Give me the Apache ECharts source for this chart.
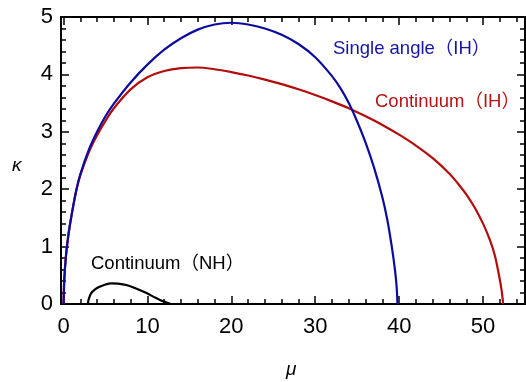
<!DOCTYPE html>
<html>
<head>
<meta charset="utf-8">
<script src="https://cdn.jsdelivr.net/npm/echarts@6/dist/echarts.min.js"></script>
<style>html,body{margin:0;padding:0;background:#fff}#c{width:526px;height:382px}</style>
</head>
<body>
<div id="c"></div>
<script>
// ---- data ----
const singleAngleIH_x = [0, 0.1, 0.3, 0.6, 1, 1.5, 2, 3, 4, 5, 6, 8, 10, 12, 14, 16, 18, 20, 22, 24, 26, 28, 30, 32, 33, 34, 35, 36, 37, 38, 38.6, 39.1, 39.5, 39.7, 39.8];
const singleAngleIH_y = [0, 0.45, 0.85, 1.22, 1.58, 1.97, 2.26, 2.68, 3.0, 3.27, 3.49, 3.86, 4.17, 4.43, 4.63, 4.78, 4.87, 4.9, 4.87, 4.8, 4.69, 4.53, 4.3, 3.97, 3.76, 3.5, 3.18, 2.81, 2.38, 1.86, 1.46, 1.02, 0.6, 0.3, 0];

const continuumIH_x = [0, 0.1, 0.3, 0.6, 1, 1.5, 2, 3, 4, 5, 6, 8, 10, 12, 14, 16, 18, 20, 22, 24, 26, 28, 30, 32, 34, 36, 38, 40, 42, 44, 46, 47, 48, 49, 50, 50.8, 51.4, 51.9, 52.2, 52.4];
const continuumIH_y = [0, 0.45, 0.85, 1.22, 1.58, 1.96, 2.24, 2.64, 2.94, 3.19, 3.41, 3.74, 3.95, 4.06, 4.11, 4.12, 4.09, 4.04, 3.98, 3.91, 3.83, 3.74, 3.64, 3.53, 3.41, 3.27, 3.12, 2.95, 2.76, 2.54, 2.27, 2.1, 1.91, 1.68, 1.4, 1.12, 0.85, 0.5, 0.25, 0];

const continuumNH_x = [2.9, 3.0, 3.3, 3.8, 4.3, 5, 5.7, 6.5, 7.5, 8.5, 9.9, 10.8, 11.5, 12.2, 12.8];
const continuumNH_y = [0, 0.08, 0.19, 0.26, 0.30, 0.34, 0.36, 0.355, 0.33, 0.28, 0.19, 0.12, 0.07, 0.03, 0];

const xMajorTicks = [0, 10, 20, 30, 40, 50];
const xMinorTicks = [2, 4, 6, 8, 12, 14, 16, 18, 22, 24, 26, 28, 32, 34, 36, 38, 42, 44, 46, 48, 52, 54];
const yMajorTicks = [0, 1, 2, 3, 4, 5];
const yMinorTicks = [0.2, 0.4, 0.6, 0.8, 1.2, 1.4, 1.6, 1.8, 2.2, 2.4, 2.6, 2.8, 3.2, 3.4, 3.6, 3.8, 4.2, 4.4, 4.6, 4.8];

const labelSingleIH = 'Single angle（IH）';
const labelContIH = 'Continuum（IH）';
const labelContNH = 'Continuum（NH）';
const xName = 'μ';
const yName = 'κ';

// ---- chart ----
const zip = (xs, ys) => xs.map((x, i) => [x, ys[i]]);
const FONT = '"Liberation Sans", Arial, "Noto Sans CJK SC", sans-serif';
const XMIN = -0.3, XMAX = 55, YMIN = 0, YMAX = 5;
const gridRect = {left: 61, right: 1, top: 17, bottom: 78};

function xAx(gridIndex, position, ticks, len, showLine, showLabel) {
  return {
    type: 'value', gridIndex, position, min: XMIN, max: XMAX,
    axisLine: {show: showLine, onZero: false, lineStyle: {color: '#000', width: 2}},
    axisTick: {show: true, inside: true, length: len, customValues: ticks, lineStyle: {color: '#000', width: 1.5}},
    axisLabel: {show: showLabel, customValues: ticks, fontSize: 22, margin: 12, color: '#000', fontFamily: FONT},
    splitLine: {show: false}, minorTick: {show: false}
  };
}
function yAx(gridIndex, position, ticks, len, showLine, showLabel) {
  return {
    type: 'value', gridIndex, position, min: YMIN, max: YMAX,
    axisLine: {show: showLine, onZero: false, lineStyle: {color: '#000', width: 2}},
    axisTick: {show: true, inside: true, length: len, customValues: ticks, lineStyle: {color: '#000', width: 1.5}},
    axisLabel: {show: showLabel, customValues: ticks, fontSize: 22, margin: 8, color: '#000', fontFamily: FONT},
    splitLine: {show: false}, minorTick: {show: false}
  };
}

const chart = echarts.init(document.getElementById('c'), null, {renderer: 'canvas'});
chart.setOption({
  animation: false,
  backgroundColor: '#fff',
  grid: [Object.assign({}, gridRect), Object.assign({}, gridRect)],
  xAxis: [
    xAx(0, 'bottom', xMajorTicks, 8, true, true),
    xAx(0, 'top', xMajorTicks, 8, true, false),
    xAx(1, 'bottom', xMinorTicks, 5, false, false),
    xAx(1, 'top', xMinorTicks, 5, false, false)
  ],
  yAxis: [
    yAx(0, 'left', yMajorTicks, 8, true, true),
    yAx(0, 'right', yMajorTicks, 8, true, false),
    yAx(1, 'left', yMinorTicks, 5, false, false),
    yAx(1, 'right', yMinorTicks, 5, false, false)
  ],
  series: [
    {type: 'line', xAxisIndex: 0, yAxisIndex: 0, data: zip(singleAngleIH_x, singleAngleIH_y), showSymbol: false, smooth: 0.35, lineStyle: {color: '#0c0c9c', width: 2.2}, z: 3},
    {type: 'line', xAxisIndex: 0, yAxisIndex: 0, data: zip(continuumIH_x, continuumIH_y), showSymbol: false, smooth: 0.35, lineStyle: {color: '#b20c0c', width: 2.2}, z: 2},
    {type: 'line', xAxisIndex: 0, yAxisIndex: 0, data: zip(continuumNH_x, continuumNH_y), showSymbol: false, smooth: 0.35, lineStyle: {color: '#000', width: 2.2}, z: 2}
  ],
  graphic: [
    {type: 'text', left: 333, top: 40, style: {text: labelSingleIH, fill: '#1414a6', font: '18.5px ' + FONT}},
    {type: 'text', left: 375, top: 93, style: {text: labelContIH, fill: '#b41414', font: '18.5px ' + FONT}},
    {type: 'text', left: 91, top: 255, style: {text: labelContNH, fill: '#000', font: '18.5px ' + FONT}},
    {type: 'text', left: 12, top: 156, style: {text: yName, fill: '#000', font: 'italic 19px ' + FONT}},
    {type: 'text', left: 286, top: 360, style: {text: xName, fill: '#000', font: 'italic 19px ' + FONT}}
  ]
});
</script>
</body>
</html>
